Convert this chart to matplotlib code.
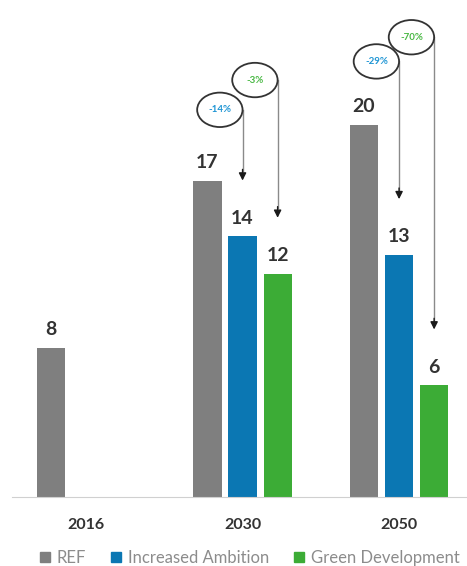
import matplotlib.pyplot as plt
from matplotlib.patches import Ellipse, Patch

# emissions by scenario
years = ['2016', '2030', '2050']
ref = [8, 17, 20]
ambition = [None, 14, 13]
green = [None, 12, 6]

# change vs REF, per scenario bar
changes = [('-14%', 1, 'ambition'), ('-3%', 1, 'green'),
           ('-29%', 2, 'ambition'), ('-70%', 2, 'green')]
circle_y = [20.8, 22.4, 23.4, 24.7]

c_ref = '#7f7f7f'
c_amb = '#0b77b3'
c_green = '#3cac36'
txt_amb = '#1e95d4'
txt_green = '#49b844'

plt.rcParams['font.family'] = ['Lato', 'DejaVu Sans']

fig = plt.figure(figsize=(4.67, 5.66), dpi=100)
ax = fig.add_axes([12 / 467, 69 / 566, 455 / 467, 497 / 566])

w = 0.18
off = 0.224
series = {'ref': (ref, -off, c_ref), 'ambition': (ambition, 0, c_amb), 'green': (green, off, c_green)}

for key, (vals, dx, col) in series.items():
    for i, v in enumerate(vals):
        if v is None:
            continue
        x = i + dx
        ax.bar(x, v, width=w, color=col, zorder=2)
        ax.annotate(str(v), (x, v), xytext=(0, 7), textcoords='offset points',
                    ha='center', va='bottom', fontsize=14, fontweight='bold', color='#333333')

# percentage bubbles with arrows down to each bar
ew, eh = 0.29, 1.85
for (label, i, key), cy in zip(changes, circle_y):
    vals, dx, col = series[key]
    x = i + dx
    tip = vals[i] + 3
    cx = x - ew / 2
    ax.add_patch(Ellipse((cx, cy), ew, eh, fill=False, ec='#333333', lw=1.3, zorder=3))
    ax.text(cx, cy, label, ha='center', va='center', fontsize=7, fontweight='bold',
            color=txt_amb if key == 'ambition' else txt_green)
    ax.plot([x, x], [cy, tip + 0.5], color='#8a8a8a', lw=1)
    ax.annotate('', xy=(x, tip), xytext=(x, tip + 0.6),
                arrowprops=dict(arrowstyle='-|>', color='#1a1a1a', lw=1,
                                mutation_scale=11, shrinkA=0, shrinkB=0))

ax.set_xlim(-0.473, 2.434)
ax.set_ylim(0, 26.7)
ax.set_xticks(range(len(years)))
ax.set_xticklabels(years, fontsize=11.5, fontweight='bold', color='#333333')
ax.tick_params(axis='x', length=0, pad=15)
ax.set_yticks([])
for s in ['top', 'right', 'left']:
    ax.spines[s].set_visible(False)
ax.spines['bottom'].set_color('#d0d0d0')

handles = [Patch(color=c_ref, label='REF'), Patch(color=c_amb, label='Increased Ambition'),
           Patch(color=c_green, label='Green Development')]
fig.legend(handles=handles, loc='center', bbox_to_anchor=(0.535, 0.014), ncol=3, frameon=False,
           fontsize=12, labelcolor='#8c8c8c', handlelength=0.6, handleheight=0.6,
           handletextpad=0.4, columnspacing=1.5)

fig.savefig('out.png', dpi=100)
